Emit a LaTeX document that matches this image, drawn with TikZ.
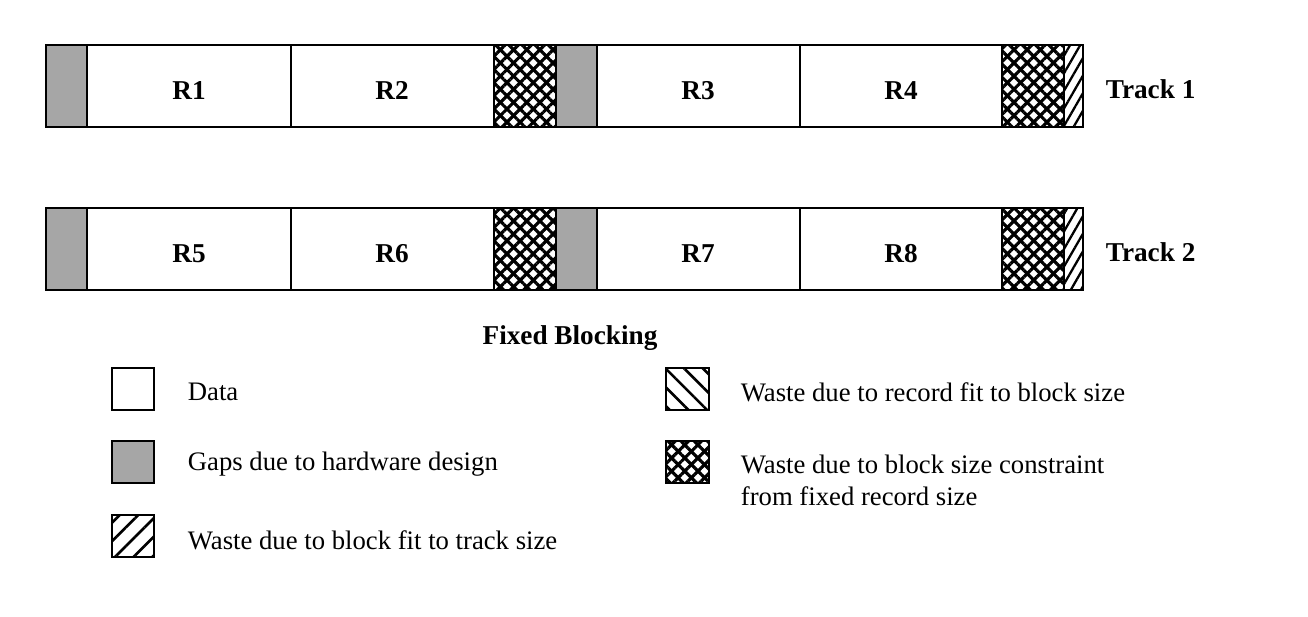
\documentclass[tikz,border=0pt]{standalone}
\usepackage{fontspec}
\setmainfont{Liberation Serif}
\usetikzlibrary{patterns.meta}
\tikzset{
  gapfill/.style={fill=gray!70},
  hatchA/.style={pattern={Lines[angle=45,distance=5.3pt,line width=1.8pt]}},
  hatchB/.style={pattern={Lines[angle=-45,distance=5.3pt,line width=1.8pt]}},
  slashfill/.style={pattern={Lines[angle=60,distance=5pt,line width=1.3pt]}},
  legslash/.style={pattern={Lines[angle=45,distance=7.5pt,line width=1.5pt]}},
  legback/.style={pattern={Lines[angle=-45,distance=7.5pt,line width=1.5pt]}},
  legtext/.style={anchor=west,inner sep=0pt,font=\fontsize{15.2}{18}\selectfont,align=left},
  boldlabel/.style={font=\bfseries\fontsize{15.5}{17}\selectfont},
}
\begin{document}
\begin{tikzpicture}[x=0.02cm,y=-0.02cm,line width=1pt]
  \useasboundingbox (0,0) rectangle (1308,616);

  % the two tracks
  \foreach \t/\y/\a/\b/\c/\d in {1/45/R1/R2/R3/R4, 2/208/R5/R6/R7/R8} {
    \fill[gapfill] (46,\y) rectangle (87,\y+82);
    \fill[gapfill] (556,\y) rectangle (597,\y+82);
    \fill[hatchA] (494,\y) rectangle (556,\y+82);
    \fill[hatchB] (494,\y) rectangle (556,\y+82);
    \fill[hatchA] (1002,\y) rectangle (1064,\y+82);
    \fill[hatchB] (1002,\y) rectangle (1064,\y+82);
    \fill[slashfill] (1064,\y) rectangle (1083,\y+82);
    \draw (46,\y) rectangle (1083,\y+82);
    \foreach \xx in {87,291,494,556,597,800,1002,1064}
      \draw (\xx,\y) -- (\xx,\y+82);
    \node[boldlabel,anchor=base] (\a) at (189,\y+54) {\a};
    \node[boldlabel,anchor=base] (\b) at (392,\y+54) {\b};
    \node[boldlabel,anchor=base] (\c) at (698,\y+54) {\c};
    \node[boldlabel,anchor=base] (\d) at (901,\y+54) {\d};
    \node[boldlabel,anchor=base west,inner sep=0pt] (track\t) at (1105,\y+53) {Track \t};
  }

  \node[boldlabel] (title) at (570,338) {Fixed Blocking};

  % legend
  \draw (112,368) rectangle (154,410);
  \node[legtext] (data) at (187,392) {Data};
  \draw[gapfill] (112,441) rectangle (154,483);
  \node[legtext] (gaps) at (187,464) {Gaps due to hardware design};
  \fill[legslash] (112,515) rectangle (154,557);
  \draw (112,515) rectangle (154,557);
  \node[legtext] (trackfit) at (187,540) {Waste due to block fit to track size};

  \fill[legback] (666,368) rectangle (709,410);
  \draw (666,368) rectangle (709,410);
  \node[legtext] (recfit) at (740,392) {Waste due to record fit to block size};
  \fill[hatchA] (666,441) rectangle (709,483);
  \fill[hatchB] (666,441) rectangle (709,483);
  \draw (666,441) rectangle (709,483);
  \node[legtext,anchor=north west] (blockfit) at (740,454) {Waste due to block size constraint\\from fixed record size};
\end{tikzpicture}
\end{document}
